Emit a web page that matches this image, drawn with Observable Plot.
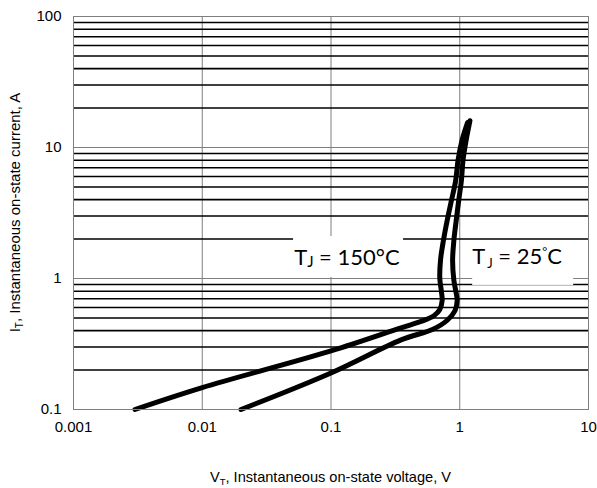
<!DOCTYPE html>
<html>
<head>
<meta charset="utf-8">
<script src="https://cdn.jsdelivr.net/npm/d3@7"></script>
<script src="https://cdn.jsdelivr.net/npm/@observablehq/plot@0.6"></script>
<style>
  html, body { margin: 0; padding: 0; background: #fff; }
  #chart svg { display: block; }
</style>
</head>
<body>
<div id="chart"></div>
<script>
// ---- data ----
const xTickValues = [0.001, 0.01, 0.1, 1, 10];
const xTickLabels = ["0.001", "0.01", "0.1", "1", "10"];
const yTickValues = [0.1, 1, 10, 100];
const yTickLabels = ["0.1", "1", "10", "100"];
const yMinorGrid = [0.2, 0.3, 0.4, 0.5, 0.6, 0.7, 0.8, 0.9,
                    2, 3, 4, 5, 6, 7, 8, 9,
                    20, 30, 40, 50, 60, 70, 80, 90];

// T_J = 150 °C curve (V, A)
const v150 = [0.003, 0.01, 0.1, 0.35, 0.5, 0.63, 0.70, 0.73, 0.72, 0.70, 0.71, 0.75, 0.80, 0.86, 0.93, 0.97, 1.04, 1.15];
const i150 = [0.1, 0.147, 0.28, 0.42, 0.47, 0.52, 0.58, 0.68, 0.80, 1.0, 1.4, 2.0, 2.8, 3.9, 5.6, 8.0, 11.3, 15.5];
// T_J = 25 °C curve (V, A)
const v25 = [0.02, 0.1, 0.35, 0.62, 0.80, 0.92, 0.955, 0.93, 0.90, 0.88, 0.90, 0.94, 0.98, 1.03, 1.06, 1.12, 1.2];
const i25 = [0.1, 0.19, 0.34, 0.41, 0.48, 0.57, 0.68, 0.81, 0.97, 1.37, 1.95, 2.8, 3.9, 5.6, 8.0, 11.3, 16];

// annotation label anchors (data units) and their white boxes
const labelV = [0.134, 2.81];
const labelI = [1.26, 1.29];
const boxV1 = [0.0512, 1.26];
const boxV2 = [0.366, 7.67];
const boxI1 = [1.02, 0.885];
const boxI2 = [2.09, 1.91];

const curve150 = v150.map((v, k) => ({v, i: i150[k]}));
const curve25 = v25.map((v, k) => ({v, i: i25[k]}));
const boxes = boxV1.map((d, k) => ({x1: d, x2: boxV2[k], y1: boxI1[k], y2: boxI2[k]}));

const plot = Plot.plot({
  width: 597,
  height: 488,
  marginLeft: 73,
  marginRight: 9,
  marginTop: 16,
  marginBottom: 79,
  x: {type: "log", domain: [0.001, 10]},
  y: {type: "log", domain: [0.1, 100]},
  style: {fontFamily: "'Liberation Sans', Arial, sans-serif", fontSize: "15px", background: "#fff", overflow: "visible", color: "#000"},
  marks: [
    Plot.ruleX(xTickValues, {stroke: "#7f7f7f", strokeWidth: 1}),
    Plot.ruleY(yMinorGrid, {stroke: "#000", strokeWidth: 1.6}),
    Plot.ruleY(yTickValues, {stroke: "#7f7f7f", strokeWidth: 1}),
    Plot.rect(boxes, {x1: "x1", x2: "x2", y1: "y1", y2: "y2", fill: "#fff"}),
    Plot.line(curve150, {x: "v", y: "i", stroke: "#000", strokeWidth: 5, curve: "catmull-rom", strokeLinecap: "round", strokeLinejoin: "round"}),
    Plot.line(curve25, {x: "v", y: "i", stroke: "#000", strokeWidth: 5, curve: "catmull-rom", strokeLinecap: "round", strokeLinejoin: "round"}),
    Plot.frame({stroke: "#7f7f7f", strokeWidth: 1}),
    Plot.axisX(xTickValues, {tickSize: 0, tickPadding: 12, label: null, fontSize: 15,
      tickFormat: d => xTickLabels[xTickValues.indexOf(d)]}),
    Plot.axisY(yTickValues, {tickSize: 0, tickPadding: 12, label: null, fontSize: 15,
      tickFormat: d => yTickLabels[yTickValues.indexOf(d)]})
  ]
});

document.getElementById("chart").appendChild(plot);

// ---- texts with sub/superscripts, positioned via the plot's scales ----
const sx = plot.scale("x");
const sy = plot.scale("y");
const svg = d3.select(plot);
const g = svg.append("g").attr("fill", "#000");

const x0 = sx.range[0], x1 = sx.range[1];
const y0 = sy.range[0], y1 = sy.range[1];

// x axis title
const xt = g.append("text")
  .attr("x", (x0 + x1) / 2).attr("y", 482)
  .attr("text-anchor", "middle")
  .style("font-family", "'Liberation Sans', Arial, sans-serif")
  .style("font-size", "14.6px");
xt.append("tspan").text("V");
xt.append("tspan").attr("dy", 3).style("font-size", "9.5px").text("T");
xt.append("tspan").attr("dy", -3).text(", Instantaneous on-state voltage, V");

// y axis title
const yt = g.append("text")
  .attr("transform", `translate(20,${(y0 + y1) / 2}) rotate(-90)`)
  .attr("text-anchor", "middle")
  .style("font-family", "'Liberation Sans', Arial, sans-serif")
  .style("font-size", "15px");
yt.append("tspan").text("I");
yt.append("tspan").attr("dy", 3).style("font-size", "10px").text("T");
yt.append("tspan").attr("dy", -3).text(", Instantaneous on-state current, A");

// annotation labels
const lab1 = g.append("text")
  .attr("x", sx.apply(labelV[0])).attr("y", sy.apply(labelI[0]))
  .attr("text-anchor", "middle")
  .style("font-family", "Lato, 'Open Sans', sans-serif")
  .style("font-size", "22px");
lab1.append("tspan").text("T");
lab1.append("tspan").attr("dy", 2).style("font-size", "15px").text("J");
lab1.append("tspan").attr("dy", -2).text(" = 150°C");

const lab2 = g.append("text")
  .attr("x", sx.apply(labelV[1])).attr("y", sy.apply(labelI[1]))
  .attr("text-anchor", "middle")
  .style("font-family", "Lato, 'Open Sans', sans-serif")
  .style("font-size", "22px");
lab2.append("tspan").text("T");
lab2.append("tspan").attr("dy", 4).attr("dx", 2).style("font-size", "13px").text("J");
lab2.append("tspan").attr("dy", -4).text(" = 25");
lab2.append("tspan").attr("dy", -8).style("font-size", "12px").text("°");
lab2.append("tspan").attr("dy", 8).text("C");
</script>
</body>
</html>
